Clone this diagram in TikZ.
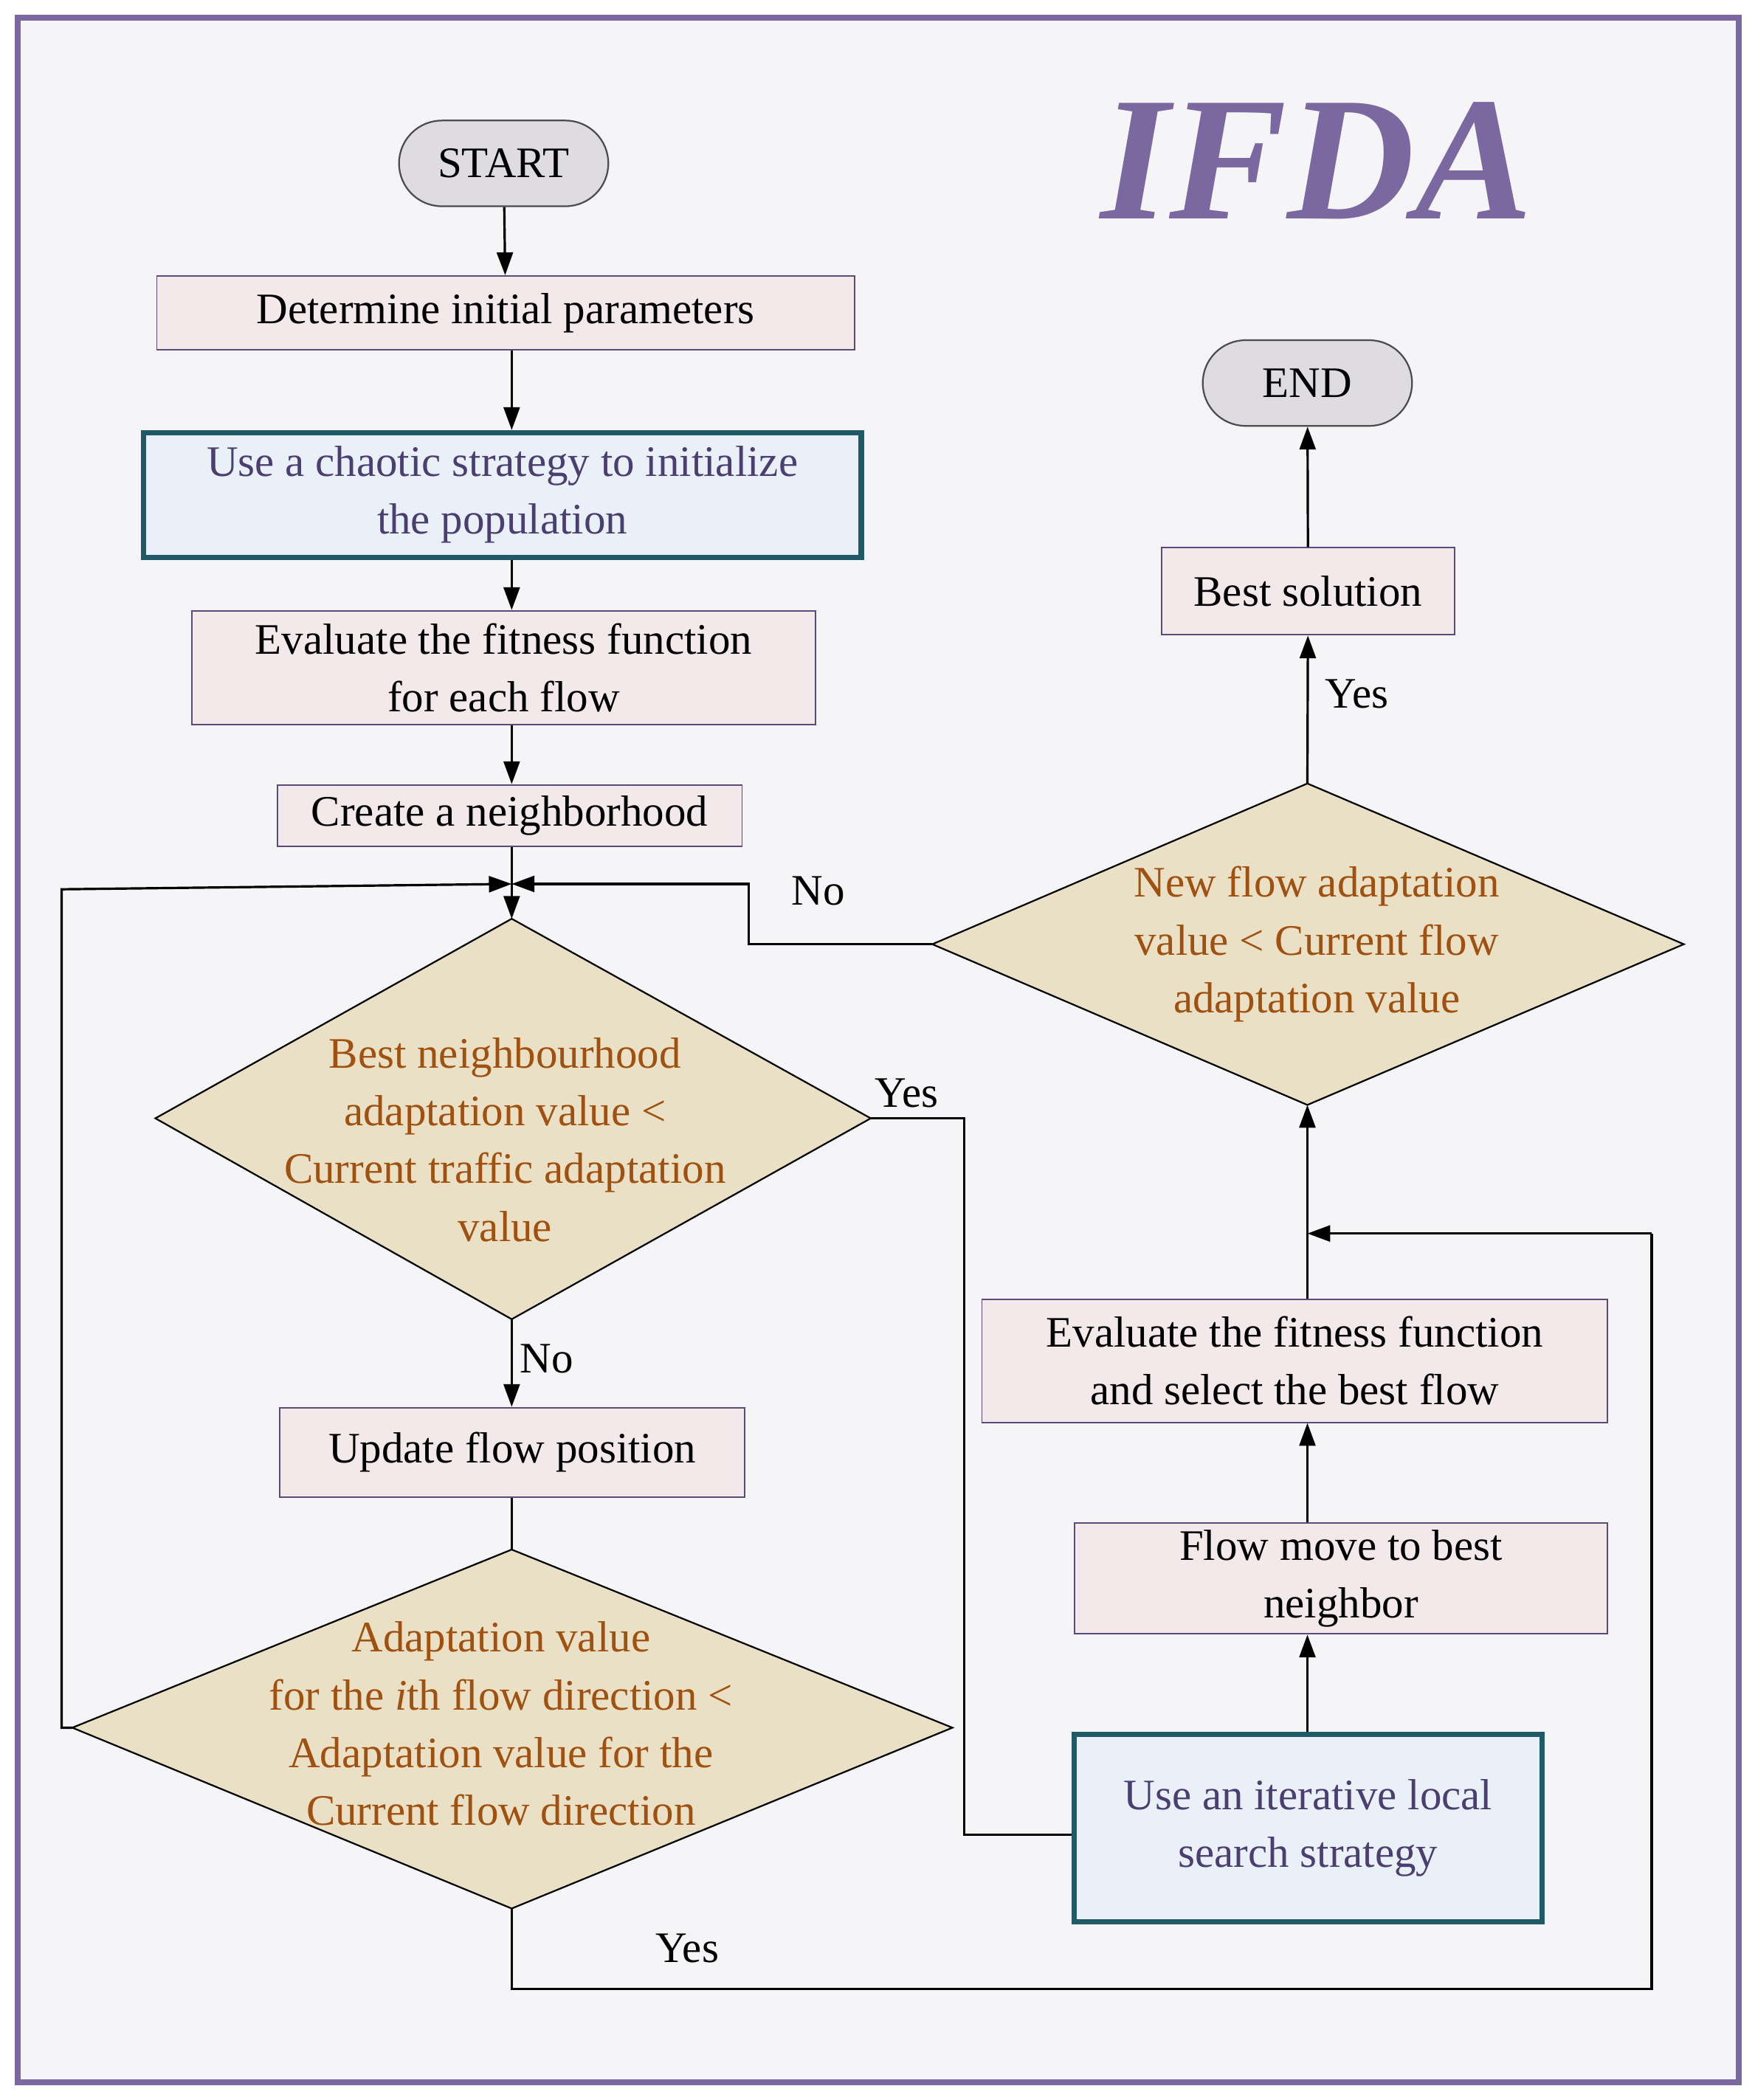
\documentclass[tikz,border=0pt]{standalone}
\usepackage{fontspec}
\setmainfont{Liberation Serif}
\usetikzlibrary{arrows.meta,shapes.misc}
\definecolor{bgc}{HTML}{F5F5F8}
\definecolor{frame}{HTML}{7B68A0}
\definecolor{boxf}{HTML}{F3E8EA}
\definecolor{boxd}{HTML}{5A4A7A}
\definecolor{bluef}{HTML}{EAF0F7}
\definecolor{blued}{HTML}{1F5A66}
\definecolor{bluet}{HTML}{4B3F72}
\definecolor{diaf}{HTML}{EAE0C5}
\definecolor{diat}{HTML}{A0500F}
\definecolor{termf}{HTML}{DEDCE0}
\tikzset{
  box/.style={draw=boxd,line width=0.6pt,fill=boxf,inner sep=0pt},
  bbox/.style={draw=blued,line width=2.2pt,fill=bluef,inner sep=0pt,text=bluet},
  term/.style={rounded rectangle,draw=black!70,line width=0.7pt,fill=termf,minimum width=3.36cm,minimum height=1.28cm},
  dia/.style={draw=black,line width=0.7pt,fill=diaf},
  txt/.style={align=center,font=\fontsize{18.5}{24.5}\selectfont},
  dtxt/.style={txt,text=diat},
  lbl/.style={font=\fontsize{18.5}{22}\selectfont},
  arr/.style={line width=1pt,-{Triangle[length=0.34cm,width=0.24cm]}},
  ln/.style={line width=1pt}
}
\begin{document}
\begin{tikzpicture}[x=0.02cm,y=-0.02cm]
\useasboundingbox (0,0) rectangle (1310,1568);
\fill[white] (0,0) rectangle (1310,1568);
\draw[frame,line width=2.5pt,fill=bgc] (13,13) rectangle (1298,1555);
\node[font=\fontsize{75}{75}\selectfont\bfseries\itshape,text=frame] (title) at (983,120) {IFDA};
% left column
\node[term,txt] (start) at (376,122) {START};
\node[box,minimum width=10.42cm,minimum height=1.1cm,txt] (det) at (377.5,233.5) {Determine initial parameters};
\node[bbox,minimum width=10.72cm,minimum height=1.86cm,txt] (chaos) at (375,369.5) {Use a chaotic strategy to initialize\\the population};
\node[box,minimum width=9.32cm,minimum height=1.7cm,txt] (eval1) at (376,498.5) {Evaluate the fitness function\\for each flow};
\node[box,minimum width=6.94cm,minimum height=0.92cm,txt] (create) at (380.5,609) {Create a neighborhood};
\coordinate (j) at (382,660);
\coordinate (d1t) at (382,686); \coordinate (d1b) at (382,985);
\coordinate (d1l) at (116,835); \coordinate (d1r) at (650,835);
\draw[dia] (d1t) -- (d1r) -- (d1b) -- (d1l) -- cycle;
\node[dtxt] (d1) at (377,851) {Best neighbourhood\\adaptation value <\\Current traffic adaptation\\value};
\node[box,minimum width=6.94cm,minimum height=1.34cm,txt] (upd) at (382.5,1084.5) {Update flow position};
\coordinate (d2t) at (382,1157); \coordinate (d2b) at (382,1425);
\coordinate (d2l) at (54,1290); \coordinate (d2r) at (711,1290);
\draw[dia] (d2t) -- (d2r) -- (d2b) -- (d2l) -- cycle;
\node[dtxt] (d2) at (374,1287) {Adaptation value\\for the \textit{i}th flow direction <\\Adaptation value for the\\Current flow direction};
% right column
\node[term,txt] (end) at (976,286) {END};
\node[box,minimum width=4.38cm,minimum height=1.3cm,txt] (best) at (976.5,441.5) {Best solution};
\coordinate (d3t) at (976,585); \coordinate (d3b) at (976,825);
\coordinate (d3l) at (696,705); \coordinate (d3r) at (1257,705);
\draw[dia] (d3t) -- (d3r) -- (d3b) -- (d3l) -- cycle;
\node[dtxt] (d3) at (983,705) {New flow adaptation\\value < Current flow\\adaptation value};
\node[box,minimum width=9.34cm,minimum height=1.84cm,txt] (eval2) at (966.5,1016) {Evaluate the fitness function\\and select the best flow};
\node[box,minimum width=7.96cm,minimum height=1.66cm,txt] (move) at (1001,1178.5) {Flow move to best\\neighbor};
\node[bbox,minimum width=6.98cm,minimum height=2.8cm,txt] (ils) at (976.5,1365) {Use an iterative local\\search strategy};
% connectors
\draw[arr] (start) -- (det);
\draw[arr] (det.south -| 382,0) -- (chaos.north -| 382,0);
\draw[arr] (chaos.south -| 382,0) -- (eval1.north -| 382,0);
\draw[arr] (eval1.south -| 382,0) -- (create.north -| 382,0);
\draw[ln] (create.south -| 382,0) -- (j);
\draw[arr] (j) -- (d1t);
\draw[arr] (d1b) -- node[lbl,right,pos=0.45,inner sep=3pt] {No} (upd.north -| d1b);
\draw[ln] (upd.south -| d2t) -- (d2t);
\draw[arr] (d2l) -- (46,1290) -- (46,664) -- (j);
\draw[ln] (d1r) -- (720,835) -- (720,1370) -- (ils.west |- 0,1370);
\node[lbl] (yes1) at (677,816) {Yes};
\draw[ln] (d2b) -- (382,1485) -- (1233,1485) -- (1233,921);
\draw[arr] (1233,921) -- (976,921);
\node[lbl] (yes2) at (513,1455) {Yes};
\draw[arr] (ils.north -| 976,0) -- (move.south -| 976,0);
\draw[arr] (move.north -| 976,0) -- (eval2.south -| 976,0);
\draw[arr] (eval2.north -| 976,0) -- (d3b);
\draw[arr] (d3l) -- (559,705) -- (559,660) -- (j);
\node[lbl] (no2) at (611,665) {No};
\draw[arr] (d3t) -- (best);
\node[lbl] (yes3) at (1013,518) {Yes};
\draw[arr] (best) -- (end);
\end{tikzpicture}
\end{document}
